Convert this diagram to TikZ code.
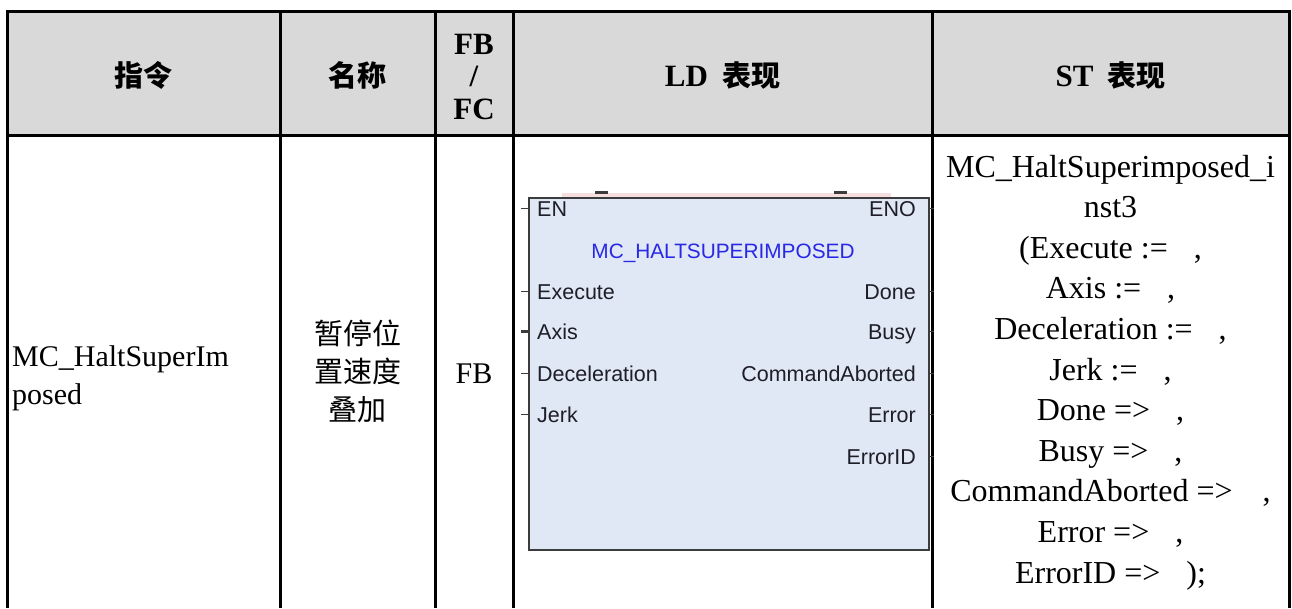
\documentclass[tikz,border=0pt]{standalone}
\usepackage{fontspec}
\setmainfont{Liberation Serif}
\newfontfamily\cjk{Noto Sans CJK SC}
\newfontfamily\arialf{Liberation Sans}
\definecolor{hdr}{RGB}{217,217,217}
\definecolor{boxfill}{RGB}{224,231,245}
\definecolor{boxline}{RGB}{60,60,60}
\definecolor{pinkstrip}{RGB}{245,222,222}
\definecolor{ttlblue}{RGB}{40,40,230}
\definecolor{lbltext}{RGB}{30,30,40}
\tikzset{
  rule/.style={line width=3pt, black, line join=miter},
  hlat/.style={font=\fontsize{31}{38}\selectfont\bfseries, anchor=base, inner sep=0pt},
  hcjk/.style={font=\fontsize{29}{38}\selectfont\cjk\bfseries, anchor=base, inner sep=0pt},
  body/.style={font=\fontsize{30}{38}\selectfont, anchor=base, inner sep=0pt},
  sttext/.style={font=\fontsize{32}{38}\selectfont, anchor=base, inner sep=0pt},
  bcjk/.style={font=\fontsize{29}{38}\selectfont\cjk, anchor=base, inner sep=0pt},
  lbl/.style={font=\fontsize{21.5}{24}\selectfont\arialf, text=lbltext, inner sep=0pt},
  ttl/.style={font=\fontsize{20.8}{24}\selectfont\arialf, text=ttlblue, inner sep=0pt, anchor=base},
  pinline/.style={line width=1.4pt, boxline},
  fbbox/.style={draw=boxline, fill=boxfill, line width=1.6pt, inner sep=0pt, anchor=north west,
    minimum width=400pt, minimum height=352pt}
}
\begin{document}
\begin{tikzpicture}[x=1pt,y=-1pt]
\useasboundingbox (0,0) rectangle (1292,608);
% header background
\fill[hdr] (7,11) rectangle (1289,135);
% table rules
\draw[rule] (7,608) -- (7,11) -- (1289,11) -- (1289,608);
\draw[rule] (7,135) -- (1289,135);
\foreach \x in {280,435,513,932} \draw[rule] (\x,11) -- (\x,608);
% header texts
\node[hcjk] (h1) at (143.5,86) {指令};
\node[hcjk] (h2) at (357.5,86) {名称};
\node[hlat] (h3a) at (474,54) {FB};
\node[hlat] (h3b) at (474,86) {/};
\node[hlat] (h3c) at (474,119) {FC};
\node[hlat] (h4) at (722.5,86) {LD\hspace{14pt}{\cjk\fontsize{29}{38}\selectfont 表现}};
\node[hlat] (h5) at (1110.5,86) {ST\hspace{14pt}{\cjk\fontsize{29}{38}\selectfont 表现}};
% body: column 1
\node[body, anchor=base west] (c1a) at (12,366) {MC\_HaltSuperIm};
\node[body, anchor=base west] (c1b) at (12,404) {posed};
% column 2
\node[bcjk] (c2a) at (357.5,344) {暂停位};
\node[bcjk] (c2b) at (357.5,382) {置速度};
\node[bcjk] (c2c) at (357.5,420) {叠加};
% column 3
\node[body] (c3) at (474,383) {FB};
% column 5: ST text
\foreach \t [count=\i] in {
  MC\_HaltSuperimposed\_i,
  nst3,
  {(Execute :=\hspace{26pt},},
  {Axis :=\hspace{26pt},},
  {Deceleration :=\hspace{26pt},},
  {Jerk :=\hspace{26pt},},
  {Done =>\hspace{26pt},},
  {Busy =>\hspace{26pt},},
  {CommandAborted =>\hspace{30pt},},
  {Error =>\hspace{26pt},},
  {ErrorID =>\hspace{26pt});}
}{
  \node[sttext] (st\i) at (1110.5,{177+40.6*(\i-1)}) {\t};
}
% LD function block
\fill[pinkstrip] (562,192.5) rectangle (891,197);
\fill[boxline] (595,190.5) rectangle (608,194);
\fill[boxline] (834,190.5) rectangle (847,194);
\node[fbbox] (fb) at (528,197) {};
\node[ttl] (ttl) at (723,258) {MC\_HALTSUPERIMPOSED};
\node[lbl, anchor=base west] (inEN) at (537,216) {EN};
\node[lbl, anchor=base west] (inEx) at (537,299) {Execute};
\node[lbl, anchor=base west] (inAx) at (537,339) {Axis};
\node[lbl, anchor=base west] (inDe) at (537,381) {Deceleration};
\node[lbl, anchor=base west] (inJe) at (537,422) {Jerk};
\node[lbl, anchor=base east] (outENO) at (916,216) {ENO};
\node[lbl, anchor=base east] (outDo) at (916,299) {Done};
\node[lbl, anchor=base east] (outBu) at (916,339) {Busy};
\node[lbl, anchor=base east] (outCA) at (916,381) {CommandAborted};
\node[lbl, anchor=base east] (outEr) at (916,422) {Error};
\node[lbl, anchor=base east] (outID) at (916,464) {ErrorID};
% pins
\foreach \y in {208.5,291.5,373.5,414.5} \draw[pinline] (521,\y) -- (528,\y);
\draw[line width=3pt, boxline] (521,331.5) -- (528,331.5);
\foreach \y in {208.5,291.5,331.5,373.5,414.5,456.5} \draw[pinline] (928,\y) -- (934,\y);
\end{tikzpicture}
\end{document}
